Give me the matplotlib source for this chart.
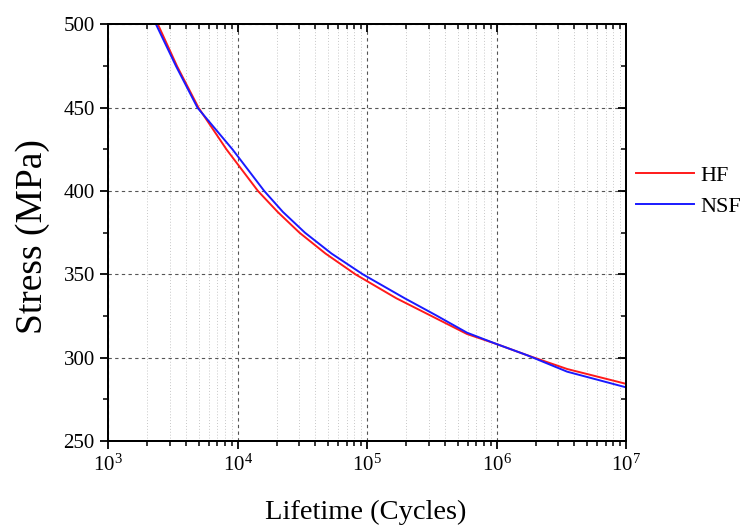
import matplotlib
matplotlib.use("Agg")
import matplotlib.pyplot as plt
from matplotlib.ticker import LogLocator, MultipleLocator, NullFormatter

# S-N curves
hf_cycles = [2430, 3410, 5000, 8220, 14400, 20400, 30100, 47800, 81500,
             168000, 322000, 592000, 1.0e6, 1.72e6, 3.51e6, 1.0e7]
hf_stress = [500, 475, 450, 425, 400, 387.5, 375, 362.5, 350,
             335.7, 324.6, 314.2, 308.2, 301.5, 293.2, 284.3]

nsf_cycles = [2350, 3350, 4910, 9150, 16100, 22400, 33200, 53200, 93000,
              195000, 340000, 592000, 1.0e6, 1.72e6, 3.51e6, 1.0e7]
nsf_stress = [500, 475, 450, 425, 400, 387.5, 375, 362.5, 350,
              335.7, 325.5, 315, 308.2, 301.5, 291.6, 282.2]

plt.rcParams["font.family"] = ["Liberation Serif", "DejaVu Serif"]
plt.rcParams["mathtext.fontset"] = "custom"
plt.rcParams["mathtext.rm"] = "Liberation Serif"
plt.rcParams["mathtext.it"] = "Liberation Serif:italic"

fig = plt.figure(figsize=(7.42, 5.29), dpi=100)
ax = fig.add_axes([0.1456, 0.1664, 0.6981, 0.7873])

ax.plot(hf_cycles, hf_stress, color="#ff1a1a", lw=1.4, label="HF", zorder=3)
ax.plot(nsf_cycles, nsf_stress, color="#1a1aff", lw=1.4, label="NSF", zorder=3)

ax.set_xscale("log")
ax.set_xlim(1e3, 1e7)
ax.set_ylim(250, 500)
ax.xaxis.set_major_locator(LogLocator(base=10, numticks=10))
ax.xaxis.set_minor_locator(LogLocator(base=10, subs=range(2, 10), numticks=50))
ax.xaxis.set_minor_formatter(NullFormatter())
ax.yaxis.set_major_locator(MultipleLocator(50))
ax.yaxis.set_minor_locator(MultipleLocator(25))

ax.grid(True, which="major", axis="both", color="#555555", ls=(0, (3, 3)), lw=0.8)
ax.grid(True, which="minor", axis="x", color="#c8c8c8", ls=(0, (1, 2)), lw=0.7)

for s in ax.spines.values():
    s.set_linewidth(1.4)
ax.tick_params(which="major", direction="out", length=6, width=1.3, labelsize=15)
ax.tick_params(which="minor", direction="out", length=3.5, width=1.1)

# mirrored ticks on top and right pointing inward
top = ax.twiny()
top.set_xscale("log")
top.set_xlim(ax.get_xlim())
top.xaxis.set_major_locator(LogLocator(base=10, numticks=10))
top.xaxis.set_minor_locator(LogLocator(base=10, subs=range(2, 10), numticks=50))
top.tick_params(which="both", direction="in", labeltop=False, width=1.3)
top.tick_params(which="major", length=6)
top.tick_params(which="minor", length=3.5, width=1.1)
right = ax.twinx()
right.set_ylim(ax.get_ylim())
right.yaxis.set_major_locator(MultipleLocator(50))
right.yaxis.set_minor_locator(MultipleLocator(25))
right.tick_params(which="both", direction="in", labelright=False, width=1.3)
right.tick_params(which="major", length=6)
right.tick_params(which="minor", length=3.5, width=1.1)
for a in (top, right):
    for s in a.spines.values():
        s.set_linewidth(1.4)

ax.set_xlabel("Lifetime (Cycles)", fontsize=20.5)
ax.xaxis.set_label_coords(0.497, -0.142)
ax.set_ylabel("Stress (MPa)", fontsize=27)
ax.yaxis.set_label_coords(-0.113, 0.49)

ax.legend(loc="center left", bbox_to_anchor=(636 / 742, 1 - 191 / 529),
          bbox_transform=fig.transFigure, frameon=False, fontsize=16,
          handlelength=2.6, handletextpad=0.3, labelspacing=0.45,
          borderpad=0, borderaxespad=0)

fig.savefig("out.png", dpi=100)
